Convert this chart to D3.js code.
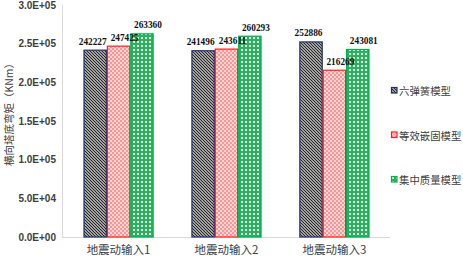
<!DOCTYPE html>
<html>
<head>
<meta charset="utf-8">
<script src="https://cdn.jsdelivr.net/npm/d3@7"></script>
<style>
  body { margin: 0; background: #fff; }
</style>
</head>
<body>
<script>
// chart data
const categories = ["地震动输入1", "地震动输入2", "地震动输入3"];
const seriesNames = ["六弹簧模型", "等效嵌固模型", "集中质量模型"];
const sixSpring = [242227, 241496, 252886];
const fixedBase = [247425, 243611, 216269];
const lumpedMass = [263360, 260293, 243081];
const yTicks = [0, 50000, 100000, 150000, 200000, 250000, 300000];

const seriesValues = [sixSpring, fixedBase, lumpedMass];
const strokes = ["#1f2f6b", "#ff2020", "#00b050"];
const fills = ["url(#pHatch)", "url(#pRed)", "url(#pGreen)"];
// labels sit a little off the bar centre, as in the original
const labelShift = [-2.5, 6, 6];

var width = 463, height = 256;
var margin = { top: 5, right: 73, bottom: 19, left: 63 };

var svg = d3.select("body").append("svg")
  .attr("width", width)
  .attr("height", height);

/* fill patterns */
var defs = svg.append("defs");
var p1 = defs.append("pattern").attr("id", "pHatch")
  .attr("width", 3).attr("height", 3).attr("patternUnits", "userSpaceOnUse");
p1.append("rect").attr("width", 3).attr("height", 3).attr("fill", "#fff");
p1.append("path").attr("d", "M0,0L3,3M-1,2L1,4M2,-1L4,1")
  .attr("stroke", "#2a2a2a").attr("stroke-width", 1.3);

var p2 = defs.append("pattern").attr("id", "pRed")
  .attr("width", 4).attr("height", 4).attr("patternUnits", "userSpaceOnUse");
p2.append("rect").attr("width", 4).attr("height", 4).attr("fill", "#ffd6d6");
p2.append("rect").attr("width", 2).attr("height", 2).attr("fill", "#ff9494");
p2.append("rect").attr("x", 2).attr("y", 2).attr("width", 2).attr("height", 2).attr("fill", "#ff9494");

var p3 = defs.append("pattern").attr("id", "pGreen")
  .attr("width", 4).attr("height", 4).attr("patternUnits", "userSpaceOnUse");
p3.append("rect").attr("width", 4).attr("height", 4).attr("fill", "#28b35c");
p3.append("rect").attr("x", 1).attr("y", 1).attr("width", 2).attr("height", 2).attr("fill", "#e8f8ec");

var x0 = d3.scaleBand()
  .domain(categories)
  .range([margin.left, width - margin.right])
  .paddingInner(0.35)
  .paddingOuter(0.19);

var x1 = d3.scaleBand()
  .domain(d3.range(3))
  .range([0, x0.bandwidth()]);

var y = d3.scaleLinear()
  .domain([0, 300000])
  .range([height - margin.bottom, margin.top]);

// axes lines
svg.append("line")
  .attr("x1", margin.left - 0.5).attr("x2", margin.left - 0.5)
  .attr("y1", y(300000)).attr("y2", y(0))
  .attr("stroke", "#d9d9d9");
svg.append("line")
  .attr("x1", margin.left - 1).attr("x2", width - margin.right)
  .attr("y1", y(0) + 0.5).attr("y2", y(0) + 0.5)
  .attr("stroke", "#d9d9d9");

// y tick labels
svg.selectAll(".ytick")
  .data(yTicks)
  .enter()
  .append("text")
  .attr("x", margin.left - 7)
  .attr("y", (d) => y(d) + 3.5)
  .attr("text-anchor", "end")
  .style("font-family", "Liberation Sans, Arial, sans-serif")
  .style("font-weight", "bold")
  .style("font-size", "10px")
  .attr("fill", "#404040")
  .text((d) => d.toExponential(1).toUpperCase().replace(/E\+(\d)$/, "E+0$1"));

// category labels
svg.selectAll(".xlab")
  .data(categories)
  .enter()
  .append("text")
  .attr("x", (d) => x0(d) + x0.bandwidth() / 2)
  .attr("y", 254)
  .attr("text-anchor", "middle")
  .style("font-family", "Noto Sans CJK SC, sans-serif")
  .style("font-size", "11.5px")
  .attr("fill", "#404040")
  .text((d) => d);

// bars
seriesValues.forEach(function (vals, s) {
  svg.append("g").selectAll("rect")
    .data(vals)
    .enter()
    .append("rect")
    .attr("x", (d, i) => x0(categories[i]) + x1(s) + 0.5)
    .attr("y", (d) => y(d) + 0.5)
    .attr("width", x1.bandwidth() - 1)
    .attr("height", (d) => y(0) - y(d) - 0.5)
    .attr("fill", fills[s])
    .attr("stroke", strokes[s])
    .attr("stroke-width", 1.2);
});

// value labels
seriesValues.forEach(function (vals, s) {
  svg.append("g").selectAll("text")
    .data(vals)
    .enter()
    .append("text")
    .attr("x", (d, i) => x0(categories[i]) + x1(s) + x1.bandwidth() / 2 + labelShift[s])
    .attr("y", (d) => y(d) - 5)
    .attr("text-anchor", "middle")
    .style("font-family", "Liberation Serif, Times New Roman, serif")
    .style("font-weight", "bold")
    .style("font-size", "9.3px")
    .attr("fill", "#111")
    .text((d) => d);
});

// y axis title
svg.append("text")
  .attr("transform", "translate(13," + 112 + ") rotate(-90)")
  .attr("text-anchor", "middle")
  .style("font-family", "Noto Sans CJK SC, sans-serif")
  .style("font-size", "10.5px")
  .attr("fill", "#404040")
  .text("横向塔底弯矩（KNm）");

// legend
var legend = svg.selectAll(".leg")
  .data(seriesNames)
  .enter()
  .append("g")
  .attr("transform", (d, i) => "translate(391," + (91 + i * 44.5) + ")");
legend.append("rect")
  .attr("x", 0.5).attr("y", -3.5)
  .attr("width", 5.5).attr("height", 5.5)
  .attr("fill", (d, i) => fills[i])
  .attr("stroke", (d, i) => strokes[i])
  .attr("stroke-width", 1.2);
legend.append("text")
  .attr("x", 8)
  .attr("y", 4)
  .style("font-family", "Noto Sans CJK SC, sans-serif")
  .style("font-size", "10.4px")
  .attr("fill", "#404040")
  .text((d) => d);
</script>
</body>
</html>
